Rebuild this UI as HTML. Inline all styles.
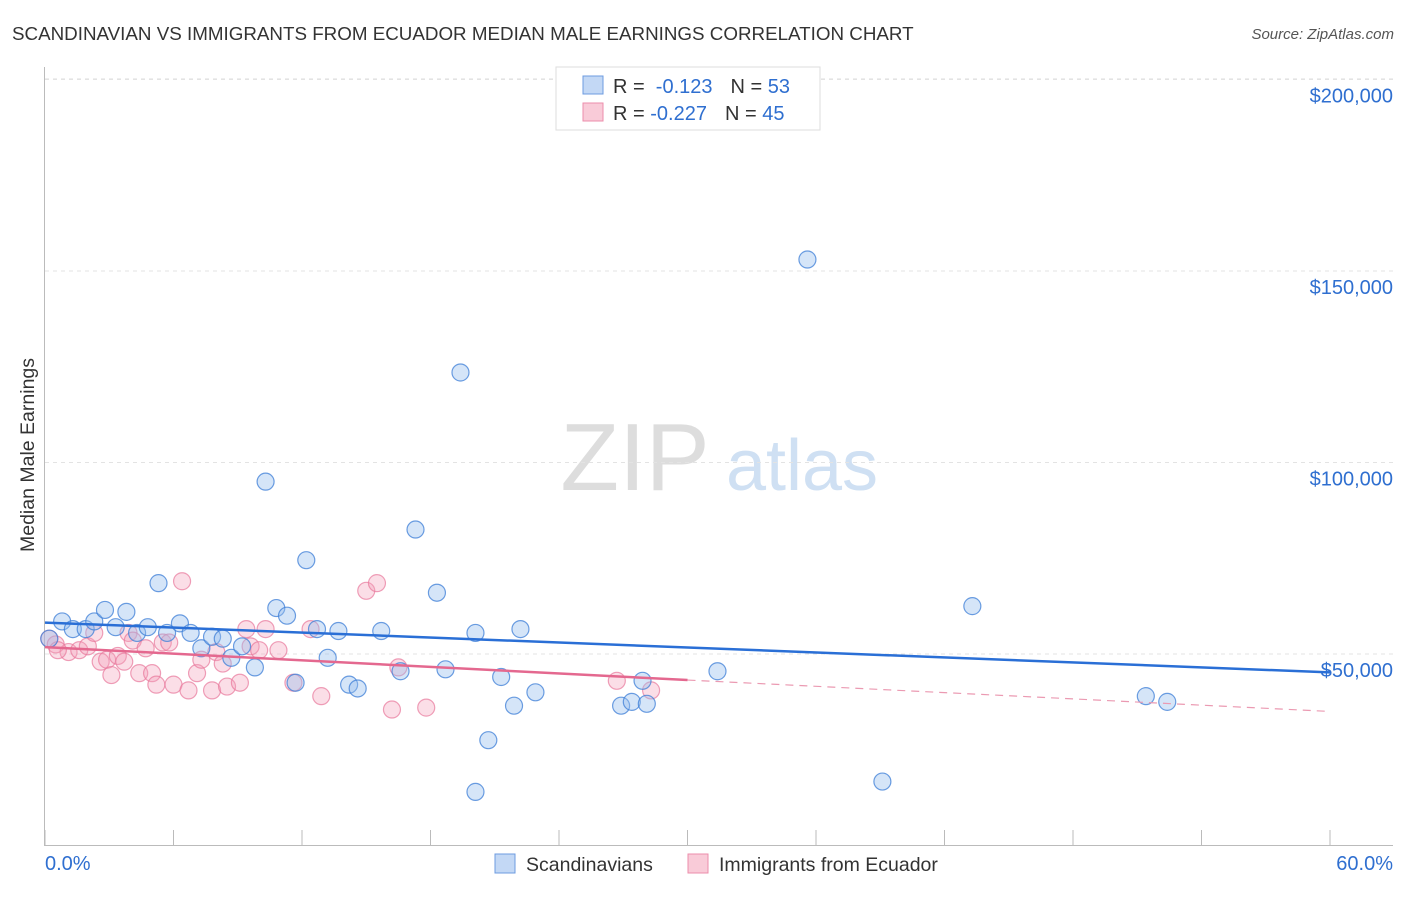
<!DOCTYPE html>
<html><head><meta charset="utf-8"><style>
body{margin:0;background:#fff;font-family:"Liberation Sans",sans-serif;}
svg text{font-family:"Liberation Sans",sans-serif;}
</style></head><body>
<svg width="1406" height="892" viewBox="0 0 1406 892">
<text x="12" y="40" font-size="18.8" fill="#333">SCANDINAVIAN VS IMMIGRANTS FROM ECUADOR MEDIAN MALE EARNINGS CORRELATION CHART</text>
<text x="1394" y="39" font-size="15" fill="#555" font-style="italic" text-anchor="end">Source: ZipAtlas.com</text>
<g>
<text x="635" y="490" font-size="96" font-family="Liberation Serif,serif" fill="#ddd" text-anchor="middle">ZIP</text>
<text x="802" y="490" font-size="72" fill="#cfe0f3" text-anchor="middle">atlas</text>
</g>
<g id="grid"></g>
<g id="axes"></g>
<text transform="translate(34,455) rotate(-90)" font-size="19.5" fill="#333" text-anchor="middle">Median Male Earnings</text>
<g id="pts"></g>
<g id="lines"></g>
<g>
<rect x="556" y="67" width="264" height="63" fill="#fff" stroke="#ddd"/>
<rect x="583" y="76" width="20" height="18" fill="#c3d8f5" stroke="#6d9be0"/>
<rect x="583" y="103" width="20" height="18" fill="#f9cbd8" stroke="#ec8eab"/>
<text x="613" y="93" font-size="20" fill="#333">R = <tspan fill="#2f6fd0">&#160;-0.123</tspan><tspan dx="18">N = </tspan><tspan fill="#2f6fd0">53</tspan></text>
<text x="613" y="120" font-size="20" fill="#333">R = <tspan fill="#2f6fd0">-0.227</tspan><tspan dx="18">N = </tspan><tspan fill="#2f6fd0">45</tspan></text>
</g>
<g>
<rect x="495" y="854" width="20" height="19" fill="#c3d8f5" stroke="#6d9be0"/>
<text x="526" y="871" font-size="19.5" fill="#333">Scandinavians</text>
<rect x="688" y="854" width="20" height="19" fill="#f9cbd8" stroke="#ec8eab"/>
<text x="719" y="871" font-size="19.5" fill="#333">Immigrants from Ecuador</text>
</g>
<text x="45" y="870" font-size="20" fill="#2f6fd0">0.0%</text>
<text x="1393" y="870" font-size="20" fill="#2f6fd0" text-anchor="end">60.0%</text>
</svg>
<script>
const yTicks=[50000,100000,150000,200000];
const yTickLabels=["$50,000","$100,000","$150,000","$200,000"];
const blueX=[0.2,0.8,1.3,1.9,2.3,2.8,3.3,3.8,4.3,4.8,5.3,5.7,6.3,6.8,7.3,7.8,8.3,8.7,9.2,9.8,10.3,10.8,11.3,11.7,12.2,12.7,13.2,13.7,14.2,14.6,15.7,16.6,17.3,18.3,18.7,19.4,20.1,20.7,21.3,21.9,22.2,22.9,26.9,27.4,27.9,28.1,31.4,35.6,39.1,43.3,51.4,52.4,20.1];
const blueY=[54000,58500,56500,56500,58500,61500,57000,61000,55500,57000,68500,55500,58000,55500,51500,54500,54000,49000,52000,46500,95000,62000,60000,42500,74500,56500,49000,56000,42000,41000,56000,45500,82500,66000,46000,123500,55500,27500,44000,36500,56500,40000,36500,37500,43000,37000,45500,153000,16700,62500,39000,37500,14000];
const pinkX=[0.2,0.5,1.1,1.6,2.0,2.3,2.6,2.9,3.1,3.4,3.9,4.1,4.4,4.7,5.0,5.2,5.5,5.8,6.0,6.4,6.7,7.1,7.3,7.8,8.0,8.3,8.5,9.1,9.4,9.6,10.3,10.9,11.6,12.4,12.9,15.0,15.5,16.2,16.5,17.8,26.7,28.3,0.6,3.7,10.0];
const pinkY=[54000,52500,50500,51000,52000,55500,48000,48500,44500,49500,55500,53500,45000,51500,45000,42000,53000,53000,42000,69000,40500,45000,48500,40500,50500,47500,41500,42500,56500,52000,56500,51000,42500,56500,39000,66500,68500,35500,46500,36000,43000,40500,51000,48000,51000];
const blueTrend=[0,58200,60,45200];
const pinkTrend=[0,51800,30,43200,60,35000];
const X=v=>45+v/60*1285, Y=v=>845.5-v/50000*191.5;
const NS="http://www.w3.org/2000/svg";
function mk(t,a,p){const e=document.createElementNS(NS,t);for(const k in a)e.setAttribute(k,a[k]);p.appendChild(e);return e;}
const grid=document.getElementById('grid'),axes=document.getElementById('axes'),pts=document.getElementById('pts'),lines=document.getElementById('lines');
mk('line',{x1:45,x2:1393,y1:79,y2:79,stroke:'#ddd','stroke-dasharray':'4,4'},grid);
yTicks.forEach((v,i)=>{
 const g=mk('line',{x1:45,x2:1393,y1:Y(v),y2:Y(v),stroke:'#e3e3e3','stroke-dasharray':'4,4'},grid);
 
 
 const t=mk('text',{x:1393,y:Y(v)+23,'font-size':20,fill:'#2f6fd0','text-anchor':'end'},axes);
 t.textContent=yTickLabels[i];
 
 
});
mk('line',{x1:44.5,x2:44.5,y1:67,y2:846,stroke:'#bbb'},axes);
mk('line',{x1:44,x2:1393,y1:845.5,y2:845.5,stroke:'#bbb'},axes);
for(let i=0;i<=10;i++){const l=mk('line',{x1:X(i*6),x2:X(i*6),y1:830,y2:846,stroke:'#bbb'},axes);
 
 }
pinkX.forEach((x,i)=>{const c=mk('circle',{cx:X(x),cy:Y(pinkY[i]),r:8.5,fill:'rgba(244,160,185,0.35)',stroke:'rgba(232,120,155,0.7)','stroke-width':1.2},pts);
 
 });
blueX.forEach((x,i)=>{const c=mk('circle',{cx:X(x),cy:Y(blueY[i]),r:8.5,fill:'rgba(150,190,238,0.4)',stroke:'rgba(60,125,215,0.75)','stroke-width':1.2},pts);
 
 });
let l=mk('line',{x1:X(blueTrend[0]),y1:Y(blueTrend[1]),x2:X(blueTrend[2]),y2:Y(blueTrend[3]),stroke:'#2a6fd6','stroke-width':2.5},lines);


l=mk('line',{x1:X(pinkTrend[0]),y1:Y(pinkTrend[1]),x2:X(pinkTrend[2]),y2:Y(pinkTrend[3]),stroke:'#e4688f','stroke-width':2.5},lines);


l=mk('line',{x1:X(pinkTrend[2]),y1:Y(pinkTrend[3]),x2:X(pinkTrend[4]),y2:Y(pinkTrend[5]),stroke:'#eb9ab2','stroke-width':1.2,'stroke-dasharray':'8,6'},lines);


</script>
</body></html>
